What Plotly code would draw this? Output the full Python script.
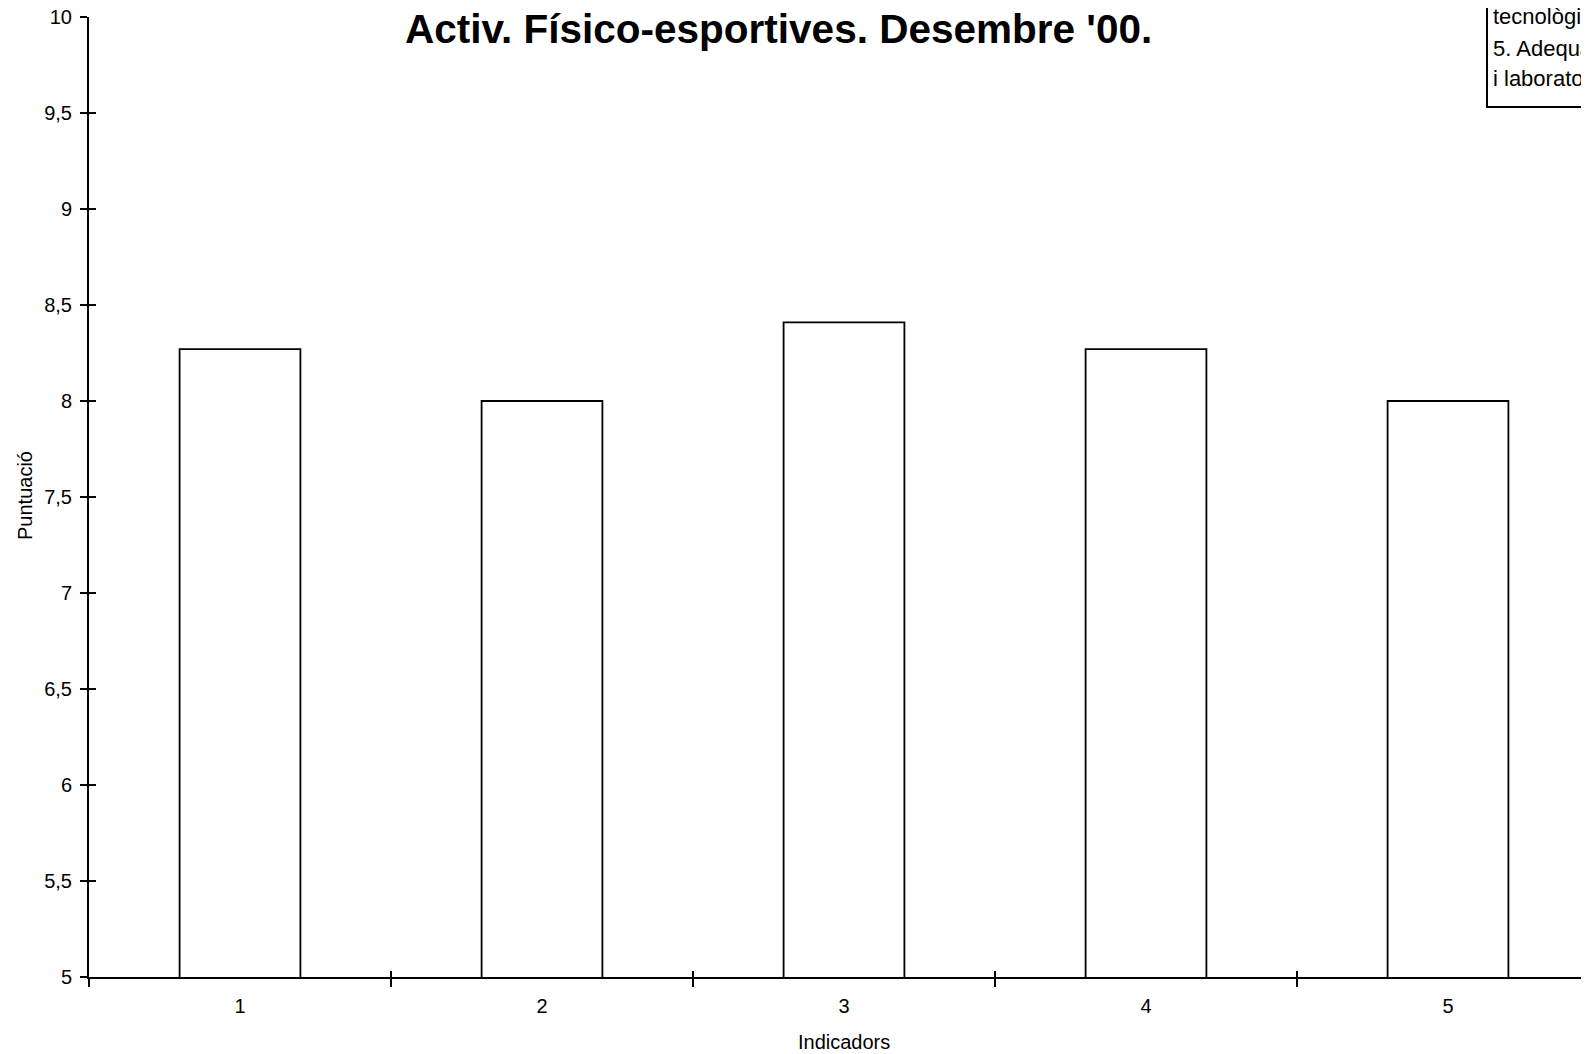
import plotly.graph_objects as go

# ---- data ----
categories = ["1", "2", "3", "4", "5"]
scores = [8.27, 8.0, 8.41, 8.27, 8.0]
y_tick_vals = [5, 5.5, 6, 6.5, 7, 7.5, 8, 8.5, 9, 9.5, 10]
y_tick_text = ["5", "5,5", "6", "6,5", "7", "7,5", "8", "8,5", "9", "9,5", "10"]
x_boundaries = [-0.5, 0.5, 1.5, 2.5, 3.5, 4.5]
title_text = "Activ. Físico-esportives. Desembre '00."
x_title = "Indicadors"
y_title = "Puntuació"
legend_lines = ["tecnològiques", "5. Adequació d'aules", "i laboratoris"]

FONT = "Arial, 'Liberation Sans', sans-serif"
OFF = 8  # default page body margin offsets the figure by 8px
VW, VH = 1589, 1054
W, H = VW - OFF, VH - OFF
AX_LEFT, AX_TOP, AX_BOTTOM = 89, 17, 977  # in viewport pixels
L = AX_LEFT - OFF
T = AX_TOP - OFF
B = H - (AX_BOTTOM - OFF)
R = 0
PW, PH = W - L - R, H - T - B

def px_to_paper_x(px):  # viewport px -> paper
    return (px - OFF - L) / PW

def py_to_paper_y(py):
    return (AX_BOTTOM - py) / PH

fig = go.Figure()
fig.add_trace(go.Bar(
    x=categories, y=scores,
    marker=dict(color="white", line=dict(color="black", width=1.8)),
    hoverinfo="x+y", showlegend=False,
))
# invisible trace to materialise the overlay (crossing-tick) axes
fig.add_trace(go.Scatter(x=[0], y=[5], mode="markers", marker=dict(opacity=0),
                         xaxis="x2", yaxis="y2", hoverinfo="skip", showlegend=False))

cat_w = 302.0
x_range = [-0.5, -0.5 + PW / cat_w]

fig.update_layout(
    width=W, height=H,
    margin=dict(l=L, r=R, t=T, b=B, pad=0, autoexpand=False),
    paper_bgcolor="white", plot_bgcolor="white",
    font=dict(family=FONT, color="black", size=20),
    bargap=0.6,
    xaxis=dict(
        type="category", categoryarray=categories, range=x_range, automargin=False,
        tickson="boundaries", ticks="outside", ticklen=8, tickwidth=2, tickcolor="black",
        showline=True, linewidth=2, linecolor="black", showgrid=False, zeroline=False,
        tickfont=dict(size=20), ticklabelstandoff=10, ticklabeloverflow="allow",
    ),
    yaxis=dict(
        range=[5, 10], tickvals=y_tick_vals, ticktext=y_tick_text, automargin=False,
        ticks="outside", ticklen=7, tickwidth=2, tickcolor="black",
        showline=True, linewidth=2, linecolor="black", showgrid=False, zeroline=False,
        tickfont=dict(size=20), ticklabelstandoff=4, ticklabeloverflow="allow",
    ),
    xaxis2=dict(
        overlaying="x", anchor="y2", range=x_range, tickvals=x_boundaries, automargin=False,
        ticks="inside", ticklen=6, tickwidth=2, tickcolor="black",
        showticklabels=False, showline=False, showgrid=False, zeroline=False,
    ),
    yaxis2=dict(
        overlaying="y", anchor="x2", range=[5, 10], tickvals=y_tick_vals, automargin=False,
        ticks="inside", ticklen=7, tickwidth=2, tickcolor="black",
        showticklabels=False, showline=False, showgrid=False, zeroline=False,
    ),
)

annotations = [
    dict(text="<b>" + title_text + "</b>", x=px_to_paper_x(778), y=py_to_paper_y(29),
         xref="paper", yref="paper", xanchor="center", yanchor="middle",
         showarrow=False, font=dict(size=40.5, family=FONT)),
    dict(text=x_title, x=px_to_paper_x(844), y=py_to_paper_y(1042),
         xref="paper", yref="paper", xanchor="center", yanchor="middle",
         showarrow=False, font=dict(size=20, family=FONT)),
    dict(text=y_title, x=px_to_paper_x(25), y=py_to_paper_y(496), textangle=-90,
         xref="paper", yref="paper", xanchor="center", yanchor="middle",
         showarrow=False, font=dict(size=20, family=FONT)),
]
for line, cy in zip(legend_lines, [16, 48, 78]):
    annotations.append(dict(text=line, x=px_to_paper_x(1491), y=py_to_paper_y(cy),
                            xref="paper", yref="paper", xanchor="left", yanchor="middle",
                            showarrow=False, font=dict(size=22, family=FONT)))
fig.update_layout(annotations=annotations)

fig.add_shape(type="rect", xref="paper", yref="paper",
              x0=px_to_paper_x(1487), x1=px_to_paper_x(1700),
              y0=py_to_paper_y(107), y1=py_to_paper_y(-20),
              line=dict(color="black", width=2), fillcolor="white", layer="below")

fig.write_html("out.html")
